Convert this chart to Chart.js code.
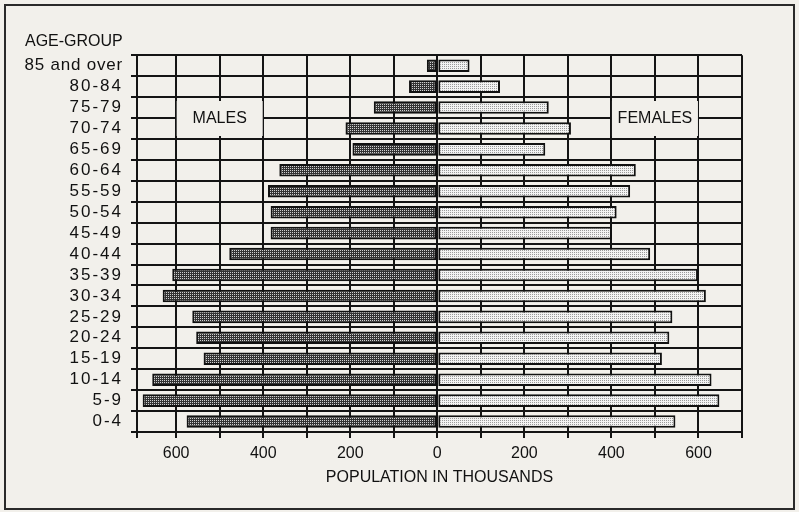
<!DOCTYPE html>
<html><head><meta charset="utf-8">
<script src="https://cdn.jsdelivr.net/npm/chart.js@4.4.0/dist/chart.umd.min.js"></script>
<style>html,body{margin:0;padding:0;background:#f2f0eb;}canvas{display:block;}</style>
</head><body>
<canvas id="c" width="799" height="512"></canvas>
<script>
// ---- data ----
const ageGroups = ['85 and over','80-84','75-79','70-74','65-69','60-64','55-59','50-54','45-49','40-44','35-39','30-34','25-29','20-24','15-19','10-14','5-9','0-4'];
const males   = [24, 65, 146, 211, 195, 363, 389, 383, 383, 478, 609, 631, 563, 554, 537, 655, 677, 576];
const females = [74, 144, 256, 307, 248, 456, 443, 412, 401, 489, 599, 617, 540, 533, 516, 630, 648, 547];
const xTickValues = [-690, -600, -500, -400, -300, -200, -100, 0, 100, 200, 300, 400, 500, 600, 700];
const xLabelEvery = 200;
const sideLabels = [{text:'MALES', value:-500}, {text:'FEMALES', value:500}];
const yTitle = 'AGE-GROUP';
const xTitle = 'POPULATION IN THOUSANDS';

const BG = '#f2f0eb';
const INK = '#141414';
const FONT = "'Liberation Sans', Arial, Helvetica, sans-serif";

const canvas = document.getElementById('c');
const ctx = canvas.getContext('2d');

function makePattern(bg, dot) {
  const c = document.createElement('canvas');
  c.width = 2; c.height = 2;
  const g = c.getContext('2d');
  g.fillStyle = bg; g.fillRect(0, 0, 2, 2);
  g.fillStyle = dot; g.fillRect(0, 0, 1, 1);
  return ctx.createPattern(c, 'repeat');
}
const malePattern = makePattern('#333333', '#d0d0d0');
const femalePattern = makePattern('#f3f3f3', '#9a9a9a');

const framePlugin = {
  id: 'frame',
  beforeDraw(chart) {
    const c = chart.ctx;
    c.save();
    c.fillStyle = BG;
    c.fillRect(0, 0, chart.width, chart.height);
    c.strokeStyle = '#2a2a2a';
    c.lineWidth = 2;
    c.strokeRect(5, 5, chart.width - 10, chart.height - 8);
    c.restore();
    const ys = chart.scales.y;
    if (ys && !ys._lsPatched) {
      const orig = ys.drawLabels.bind(ys);
      ys._computeLabelArea = () => undefined;
      ys.drawLabels = function(area) {
        const cc = this.ctx;
        const origFill = cc.fillText;
        cc.save();
        cc.fillText = function(text, x, y, mw) {
          cc.letterSpacing = /^[0-9\-]+$/.test(String(text)) ? '2px' : '0.8px';
          return mw === undefined ? origFill.call(cc, text, x, y) : origFill.call(cc, text, x, y, mw);
        };
        try { orig(area); } finally {
          delete cc.fillText;
          cc.restore();
        }
      };
      ys._lsPatched = true;
    }
  }
};

const sideLabelPlugin = {
  id: 'sideLabels',
  afterDatasetsDraw(chart) {
    const xs = chart.scales.x, ys = chart.scales.y;
    const c = chart.ctx;
    const yc = (ys.getPixelForValue(2) + ys.getPixelForValue(3)) / 2;
    c.save();
    sideLabels.forEach(l => {
      const xc = xs.getPixelForValue(l.value);
      c.fillStyle = BG;
      c.fillRect(xc - 43, yc - 17, 86, 35);
      c.fillStyle = '#111';
      c.font = '16px ' + FONT;
      c.textAlign = 'center';
      c.textBaseline = 'middle';
      c.fillText(l.text, xc, yc + 1);
    });
    c.restore();
  }
};

new Chart(canvas, {
  type: 'bar',
  data: {
    labels: ageGroups,
    datasets: [
      {
        label: 'Males',
        data: males.map(v => -v),
        backgroundColor: malePattern,
        borderColor: '#111',
        borderWidth: 2,
        borderSkipped: false,
        barPercentage: 0.6,
        categoryPercentage: 1.0
      },
      {
        label: 'Females',
        data: females,
        backgroundColor: femalePattern,
        borderColor: '#111',
        borderWidth: 2,
        borderSkipped: false,
        barPercentage: 0.6,
        categoryPercentage: 1.0
      }
    ]
  },
  options: {
    indexAxis: 'y',
    responsive: false,
    animation: false,
    devicePixelRatio: 1,
    layout: { padding: { left: 25, right: 57, top: 20, bottom: 21 } },
    plugins: {
      legend: { display: false },
      tooltip: { enabled: false },
      title: {
        display: true,
        text: yTitle,
        align: 'start',
        color: '#111',
        font: { family: FONT, size: 16, weight: 'normal' },
        padding: { top: 12, bottom: 4 }
      }
    },
    scales: {
      x: {
        type: 'linear',
        stacked: true,
        min: xTickValues[0],
        max: xTickValues[xTickValues.length - 1],
        afterBuildTicks: s => { s.ticks = xTickValues.map(v => ({ value: v })); },
        afterFit: s => { s.height = 59; },
        grid: { color: INK, lineWidth: 2, tickLength: 6, tickWidth: 2, tickColor: INK },
        border: { color: INK, width: 2 },
        ticks: {
          autoSkip: false,
          maxRotation: 0,
          padding: 6,
          color: '#111',
          font: { family: FONT, size: 16 },
          callback: v => (Math.abs(v) % xLabelEvery === 0) ? String(Math.abs(v)) : ''
        },
        title: {
          display: true,
          text: xTitle,
          color: '#111',
          font: { family: FONT, size: 16 },
          padding: { top: 2, bottom: 4 }
        }
      },
      y: {
        type: 'category',
        stacked: true,
        offset: true,
        grid: { offset: true, color: INK, lineWidth: 2, tickLength: 6, tickWidth: 2, tickColor: INK },
        border: { color: INK, width: 2 },
        ticks: {
          autoSkip: false,
          padding: 8,
          color: '#111',
          font: { family: FONT, size: 17 }
        },
        afterFit: s => { s.width = 112; }
      }
    }
  },
  plugins: [framePlugin, sideLabelPlugin]
});
</script>
</body></html>
